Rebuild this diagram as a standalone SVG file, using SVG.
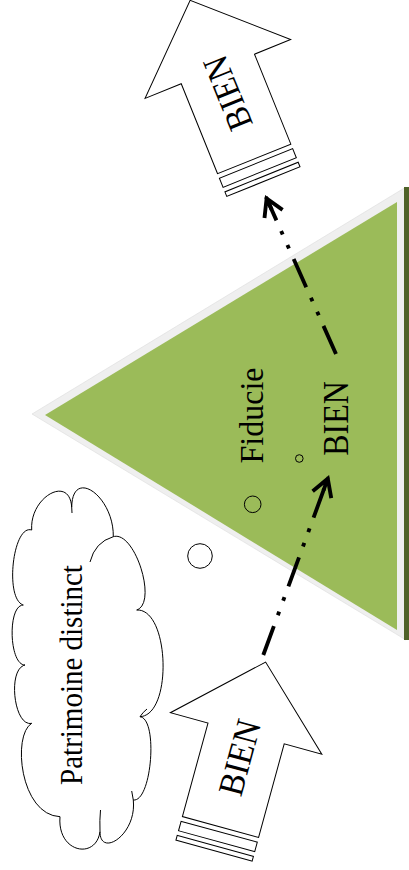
<svg xmlns="http://www.w3.org/2000/svg" width="409" height="870" viewBox="0 0 409 870">
<defs>
<style>
.lbl{font-family:"Liberation Serif","Times New Roman",serif;fill:#000;text-anchor:middle}
.outline{fill:#fff;stroke:#000;stroke-width:1}
.thin{fill:none;stroke:#000;stroke-width:1}
.conn{fill:none;stroke:#000;stroke-width:3.85;stroke-dasharray:30.8 11.55 3.85 11.55 3.85 11.55;marker-end:url(#openArrow)}
</style>
<marker id="openArrow" markerUnits="userSpaceOnUse" orient="auto" refX="0" refY="0" markerWidth="30" markerHeight="30" overflow="visible">
<path d="M -18.5,-9.9 L -1.5,0 L -18.5,9.9 M -1.5,0 L -14,0" fill="none" stroke="#000" stroke-width="3.85"/>
</marker>
<g id="stripedArrow">
<path d="M -39.5,0 L -39.5,-97 L -78.5,-97 L 0,-171 L 78.5,-97 L 39.5,-97 L 39.5,0 Z" class="outline"/>
<rect x="-39.5" y="4.9" width="79" height="9.8" class="outline"/>
<rect x="-39.5" y="19.6" width="79" height="4.9" class="outline"/>
</g>
</defs>

<g id="fiducie">
<polygon points="32,414 406,187 406,640" fill="#efefef" stroke="#dcdcdc" stroke-width="0.6"/>
<polygon points="45,415 397,202 397,630" fill="#9bbb59"/>
<rect x="404" y="187" width="5" height="453" fill="#4f6228"/>
<text class="lbl" font-size="32" transform="translate(263,415.5) rotate(-90) scale(1,1.08)">Fiducie</text>
</g>

<g id="bien-fiducie">
<text class="lbl" font-size="32" transform="translate(348,418.5) rotate(-90) scale(1,1.1)">BIEN</text>
</g>

<g id="patrimoine">
<path class="outline" d="M 31.7,530 C 29.4,497.3 69.4,474.3 71.7,507 C 72.4,466.7 114,496.4 113.3,536.7 C 134.6,529.9 158,603.2 136.7,610 C 169.6,608.3 172.9,715 140,716.7 C 158.4,719 151.7,802.3 133.3,800 C 137,835 100,858 100,831.7 C 96,860 57,853 60,816.7 C 20,815 12,735 31.7,723.3 C 13.9,727.3 7.2,669 25,665 C 9,665 7.3,605 23.3,605 C 4.4,599 12.8,524 31.7,530 Z"/>
<path class="thin" d="M 90,562 Q 95,542 113.3,536.7 M 140,716.7 Q 143,712 147,709 M 133.3,800 L 131.7,791 M 100,831.7 Q 99.5,820 100.5,810 M 71.7,507 L 72,513"/>
<text class="lbl" font-size="29" transform="translate(81.5,675) rotate(-90) scale(1,1.06)">Patrimoine distinct</text>
</g>

<g id="bulles">
<circle cx="200" cy="556" r="12.3" class="thin"/>
<circle cx="252.7" cy="504.3" r="8.3" class="thin"/>
<circle cx="299.3" cy="458.5" r="3.8" class="thin"/>
</g>

<g id="bien-haut" transform="translate(254.2,158.9) rotate(-22)">
<use href="#stripedArrow"/>
<text class="lbl" font-size="33" transform="translate(12,-71) rotate(-90) scale(1,1.08)">BIEN</text>
</g>

<g id="bien-bas" transform="translate(220.5,827) rotate(15.3)">
<use href="#stripedArrow"/>
<text class="lbl" font-size="33" transform="translate(12,-72) rotate(-90) scale(1,1.08)">BIEN</text>
</g>

<g id="connecteurs">
<path class="conn" d="M 263.3,655 L 328.3,477.3"/>
<path class="conn" d="M 336,354 L 266,197"/>
</g>
</svg>
